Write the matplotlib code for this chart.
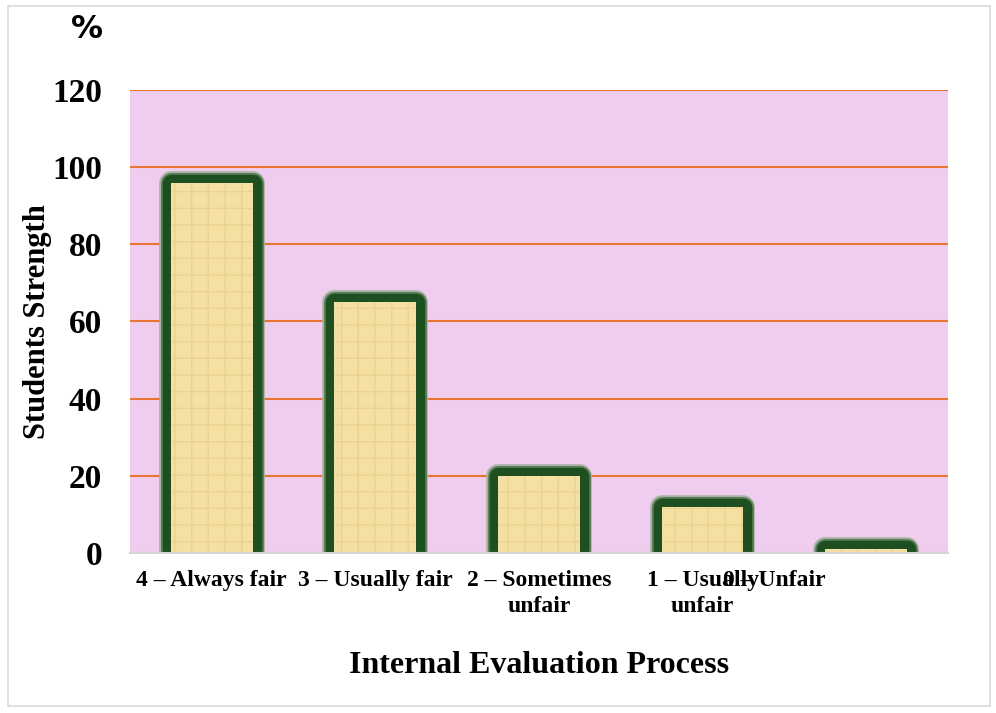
import matplotlib.pyplot as plt
import matplotlib.patheffects as pe
import matplotlib.transforms as mtransforms
from matplotlib.patches import Rectangle

# data
categories = ['4 – Always fair', '3 – Usually fair', '2 – Sometimes\nunfair',
              '1 – Usually\nunfair', '0 – Unfair']
values = [96, 65, 20, 12, 1]
yticks = [0, 20, 40, 60, 80, 100, 120]

fig = plt.figure(figsize=(9.96, 7.13), dpi=100)
# light outer frame
fig.patches.append(Rectangle((0.008, 0.01), 0.986, 0.982, transform=fig.transFigure,
                             fill=False, edgecolor='#d9d9d9', linewidth=1.2))
ax = fig.add_axes([0.1305, 0.2244, 0.8213, 0.6494])
ax.set_facecolor('#f0cdee')

x = range(len(categories))
# glow behind bars
glow = ax.bar(x, values, width=0.5, color='#1b4d1e', edgecolor='#1b4d1e',
              linewidth=0, zorder=3)
for b in glow:
    b.set_path_effects([
        pe.Stroke(linewidth=17, foreground='#a7b3a2', joinstyle='round'),
        pe.Stroke(linewidth=15, foreground='#5a7a57', joinstyle='round'),
        pe.Stroke(linewidth=12.5, foreground='#1d4f20', joinstyle='round'),
        pe.Normal()])
# textured fill on top
ax.bar(x, values, width=0.5, color='#f5e0a4', edgecolor='#ecd28e',
       linewidth=0, hatch='+', zorder=4)

ax.set_ylim(0, 120)
ax.set_xlim(-0.5, len(categories) - 0.5)
ax.set_yticks(yticks)
ax.yaxis.grid(True, color='#e8742f', linewidth=1.5)
ax.set_axisbelow(True)
for s in ['left', 'right', 'top']:
    ax.spines[s].set_visible(False)
ax.spines['bottom'].set_color('#d0d8d0')
ax.spines['bottom'].set_linewidth(1.5)
ax.spines['bottom'].set_zorder(5)
ax.tick_params(length=0)

ax.set_yticklabels([str(v) for v in yticks], fontsize=24, fontweight='bold',
                   family='Liberation Serif')
ax.tick_params(axis='y', pad=20)
ax.set_xticks(list(x))
ax.set_xticklabels(categories, fontsize=17, fontweight='bold',
                   family='Liberation Serif', linespacing=1.35)
ax.tick_params(axis='x', pad=12)
# last label sits left of its bar in the original
lab = ax.get_xticklabels()[-1]
lab.set_transform(lab.get_transform() + mtransforms.ScaledTranslation(-0.92, 0, fig.dpi_scale_trans))

ax.set_xlabel('Internal Evaluation Process', fontsize=23, fontweight='bold',
              family='Liberation Serif', labelpad=24)
ax.set_ylabel('Students Strength', fontsize=22, fontweight='bold',
              family='Liberation Serif', labelpad=0)
fig.text(0.087, 0.958, '%', fontsize=23, fontweight='bold', ha='center', va='center')

fig.savefig('out.png', dpi=100)
